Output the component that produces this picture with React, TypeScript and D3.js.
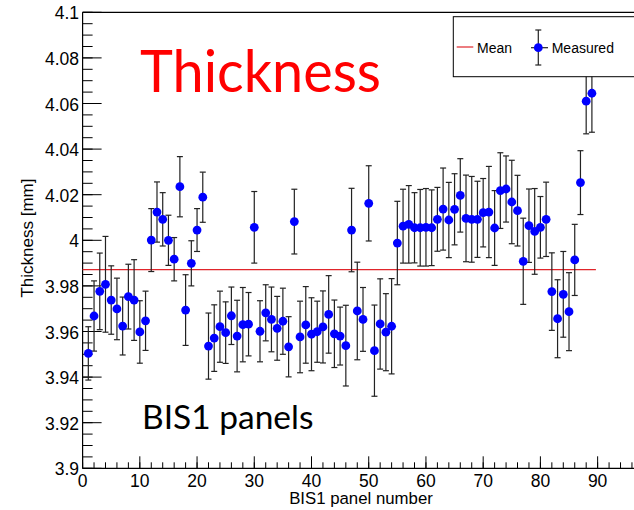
import React from "react";
import * as d3 from "d3";

// BIS1 panel thickness
const panels = d3.range(1, 90);
const thickness = [
  3.9504, 3.9668, 3.9776, 3.9807, 3.9738, 3.9699, 3.9624, 3.9753, 3.9738, 3.9598,
  3.9647, 4.0001, 4.0124, 4.0092, 4.0, 3.9917, 4.0235, 3.9694, 3.9899, 4.0045,
  4.0189, 3.9536, 3.9571, 3.9621, 3.9595, 3.9669, 3.958, 3.963, 3.9632, 4.0057,
  3.9601, 3.9682, 3.9653, 3.9614, 3.9645, 3.9533, 4.0082, 3.9576, 3.9629, 3.9588,
  3.9599, 3.962, 3.9675, 3.959, 3.958, 3.9538, 4.0045, 3.969, 3.9653, 4.0162,
  3.9516, 3.9633, 3.9597, 3.9623, 3.9988, 4.0062, 4.007, 4.0055, 4.0055, 4.0057,
  4.0055, 4.0092, 4.0137, 4.0089, 4.0136, 4.0197, 4.0096, 4.0092, 4.0092, 4.0121,
  4.0124, 4.0054, 4.0218, 4.0225, 4.0168, 4.013, 3.9908, 4.0064, 4.0039, 4.0057,
  4.0092, 3.9775, 3.9656, 3.9763, 3.9687, 3.9914, 4.0253, 4.061, 4.0645,
];
const errors = [
  0.0117, 0.0154, 0.0168, 0.021, 0.015, 0.0135, 0.0127, 0.0142, 0.0177, 0.0137,
  0.013, 0.0138, 0.0132, 0.0117, 0.011, 0.0095, 0.0132, 0.0155, 0.0099, 0.0094,
  0.011, 0.0145, 0.0146, 0.0156, 0.0135, 0.0126, 0.0157, 0.0163, 0.0139, 0.0157,
  0.0134, 0.0123, 0.0142, 0.014, 0.0145, 0.0132, 0.0142, 0.0157, 0.0168, 0.016,
  0.0134, 0.0158, 0.017, 0.0148, 0.0127, 0.0177, 0.0183, 0.0214, 0.014, 0.0165,
  0.02, 0.0198, 0.0169, 0.0209, 0.0183, 0.0162, 0.017, 0.0154, 0.0168, 0.017,
  0.0166, 0.014, 0.018, 0.0165, 0.0156, 0.0161, 0.019, 0.0188, 0.0167, 0.015,
  0.02, 0.0164, 0.0166, 0.0145, 0.0183, 0.0155, 0.0189, 0.0161, 0.0188, 0.0135,
  0.0163, 0.017, 0.0171, 0.0188, 0.0171, 0.0156, 0.014, 0.0143, 0.0171,
];
const meanValue = 3.9871;
const meanRange = [0, 89.7];

const yMajor = d3.range(3.9, 4.1001, 0.02);
const yMinor = d3.range(3.9, 4.1001, 0.005);
const xMajor = d3.range(0, 91, 10);
const xMinor = d3.range(0, 97, 2);

const helv = "'Liberation Sans', Arial, sans-serif";
const calibri = "Lato, 'Open Sans', sans-serif";

export default function App() {
  const width = 634;
  const height = 510;

  const x = d3.scaleLinear().domain([0, 97.3]).range([82.6, 639.4]);
  const y = d3.scaleLinear().domain([3.9, 4.1]).range([468.3, 12.3]);

  const x0 = x(0);
  const yTop = y(4.1);
  const yBot = y(3.9);

  const points = panels.map((p, i) => ({ p, v: thickness[i], e: errors[i] }));
  const fmt = (v: number) => String(+v.toFixed(2));

  return (
    <svg width={width} height={height} style={{ position: "absolute", left: 0, top: 0, background: "#fff" }}>
      <rect width={width} height={height} fill="#fff" />

      {/* frame */}
      <line x1={x0} x2={width + 10} y1={yTop} y2={yTop} stroke="#000" strokeWidth={1.2} />
      <line x1={x0} x2={x0} y1={yTop} y2={yBot} stroke="#000" strokeWidth={1.2} />
      <line x1={x0} x2={width + 10} y1={yBot} y2={yBot} stroke="#000" strokeWidth={1.2} />

      {/* y ticks */}
      {yMinor.map((t, i) => (
        <line key={"ym" + i} x1={x0} x2={x0 + 10} y1={y(t)} y2={y(t)} stroke="#000" strokeWidth={1} />
      ))}
      {yMajor.map((t, i) => (
        <g key={"yM" + i}>
          <line x1={x0} x2={x0 + 19} y1={y(t)} y2={y(t)} stroke="#000" strokeWidth={1} />
          <text x={79} y={y(t) + 7} textAnchor="end" fontFamily={helv} fontSize={17.5} fill="#000">
            {fmt(t)}
          </text>
        </g>
      ))}

      {/* x ticks */}
      {xMinor.map((t) => (
        <line key={"xm" + t} x1={x(t)} x2={x(t)} y1={yBot} y2={yBot - 6} stroke="#000" strokeWidth={1} />
      ))}
      {xMajor.map((t) => (
        <g key={"xM" + t}>
          <line x1={x(t)} x2={x(t)} y1={yBot} y2={yBot - 12} stroke="#000" strokeWidth={1} />
          <text x={x(t)} y={486.5} textAnchor="middle" fontFamily={helv} fontSize={17.5} fill="#000">
            {t}
          </text>
        </g>
      ))}

      {/* axis titles */}
      <text x={361} y={504} textAnchor="middle" fontFamily={helv} fontSize={16.8} fill="#000">
        BIS1 panel number
      </text>
      <text
        transform={`translate(32.5, 238) rotate(-90)`}
        textAnchor="middle"
        fontFamily={helv}
        fontSize={17}
        fill="#000"
      >
        Thickness [mm]
      </text>

      {/* mean */}
      <line
        x1={x(meanRange[0])}
        x2={x(meanRange[1])}
        y1={y(meanValue)}
        y2={y(meanValue)}
        stroke="#e0252b"
        strokeWidth={1.2}
      />

      {/* error bars */}
      {points.map((d) => (
        <g key={"e" + d.p} stroke="#222" strokeWidth={1.2}>
          <line x1={x(d.p)} x2={x(d.p)} y1={y(d.v + d.e)} y2={y(d.v - d.e)} />
          <line x1={x(d.p) - 3} x2={x(d.p) + 3} y1={y(d.v + d.e)} y2={y(d.v + d.e)} />
          <line x1={x(d.p) - 3} x2={x(d.p) + 3} y1={y(d.v - d.e)} y2={y(d.v - d.e)} />
        </g>
      ))}
      {points.map((d) => (
        <circle key={"c" + d.p} cx={x(d.p)} cy={y(d.v)} r={4.4} fill="#0000ff" />
      ))}

      {/* legend */}
      <rect x={453.3} y={16.7} width={200} height={60} fill="#fff" stroke="#000" strokeWidth={1} />
      <line x1={456.7} x2={473.3} y1={47} y2={47} stroke="#e0252b" strokeWidth={1.2} />
      <text x={477} y={53} fontFamily={helv} fontSize={14} fill="#000">Mean</text>
      <g stroke="#222" strokeWidth={1.2}>
        <line x1={538.3} x2={538.3} y1={30} y2={65} />
        <line x1={535.3} x2={541.3} y1={30} y2={30} />
        <line x1={535.3} x2={541.3} y1={65} y2={65} />
        <line x1={531} x2={548} y1={47.7} y2={47.7} />
      </g>
      <circle cx={538.3} cy={47.7} r={4.4} fill="#0000ff" />
      <text x={551.7} y={53} fontFamily={helv} fontSize={14} fill="#000">Measured</text>

      {/* annotations */}
      <text x={140} y={91.5} fontFamily={calibri} fontSize={58} textLength={241} lengthAdjust="spacingAndGlyphs" fill="#ff0000">Thickness</text>
      <text x={142} y={429.3} fontFamily={calibri} fontSize={33.5} fill="#000">BIS1 panels</text>
    </svg>
  );
}
